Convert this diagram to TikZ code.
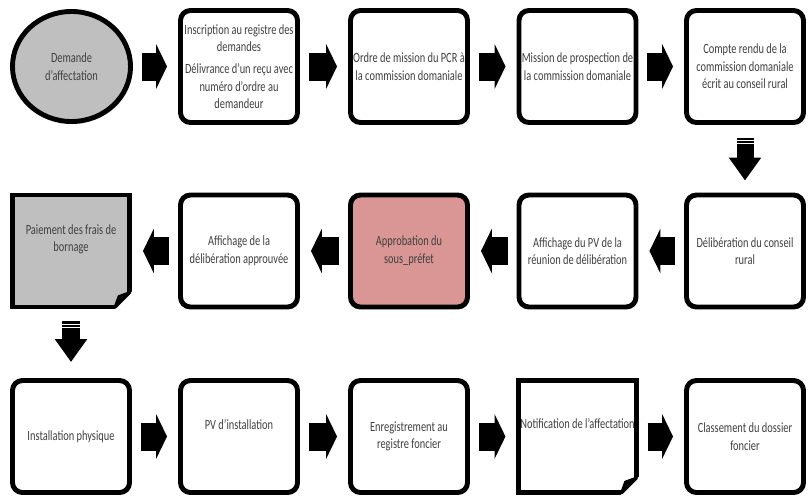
\documentclass[tikz,border=0pt]{standalone}
\usepackage{fontspec}
\setmainfont{Carlito}[FakeStretch=0.74]
\usetikzlibrary{shapes.geometric,shadows,arrows.meta,calc}

\definecolor{stepgray}{RGB}{191,191,191}
\definecolor{steppink}{RGB}{217,150,148}

% folded corner of a document box
\newcommand{\dogear}[1]{%
  \fill[white] ($(#1.south east)+(5,5)$) -- ($(#1.south east)+(-23,5)$) -- ($(#1.south east)+(5,-23)$) -- cycle;
  \filldraw[line width=2pt,line join=round] ($(#1.south east)+(-17,-2)$) -- ($(#1.south east)+(-2,-17)$) -- ($(#1.south east)+(-13,-13)$) -- cycle;}

\begin{document}
\begin{tikzpicture}[x=0.025cm,y=-0.025cm,
   font=\fontsize{10}{12.5}\selectfont,
   stepbox/.style={draw,line width=3.5pt,rounded corners=0.25cm,fill=white,
      minimum width=2.925cm,minimum height=2.8cm,inner sep=1pt,align=center,text=black!75,
      drop shadow={shadow xshift=1.5pt,shadow yshift=-1.5pt,opacity=0.35}},
   docbox/.style={stepbox,sharp corners},
   startnode/.style={ellipse,draw,line width=3.5pt,fill=stepgray,
      minimum width=2.95cm,minimum height=2.75cm,align=center,text=black!75,
      drop shadow={shadow xshift=1.5pt,shadow yshift=-1.5pt,opacity=0.35}},
   harrow/.style={line width=0.7cm,-{Triangle[length=0.27cm,width=1.1cm]},
      shorten <=0.225cm,shorten >=0.275cm},
   varrow/.style={line width=0.425cm,-{Triangle[length=0.575cm,width=0.775cm]}},
   stripe/.style={white,line width=0.6pt}]
   \useasboundingbox (0,0) rectangle (810,496);

   % first row
   \node[startnode] (dem) at (71.5,66.5) {Demande\\d'affectation};
   \node[stepbox] (insc) at (239,66.5) {Inscription au registre des\\demandes\\[3pt]Délivrance d'un reçu avec\\numéro d'ordre au\\demandeur};
   \node[stepbox] (ordre) at (409,66.5) {Ordre de mission du PCR à\\la commission domaniale};
   \node[stepbox] (mission) at (577.5,66.5) {Mission de prospection de\\la commission domaniale};
   \node[stepbox] (compte) at (745,66.5) {Compte rendu de la\\commission domaniale\\écrit au conseil rural};

   % second row
   \node[stepbox] (delib) at (745,251) {Délibération du conseil\\rural};
   \node[stepbox] (affpv) at (577.5,251) {Affichage du PV de la\\réunion de délibération};
   \node[stepbox,fill=steppink] (appro) at (409,251) {Approbation du\\sous\_préfet};
   \node[stepbox] (affdel) at (239,251) {Affichage de la\\délibération approuvée};
   \node[docbox,fill=stepgray] (paie) at (71,251) {Paiement des frais de\\bornage\\[6pt]\mbox{}};
   \dogear{paie}

   % third row
   \node[stepbox] (instal) at (71,436.5) {Installation physique};
   \node[stepbox] (pvinst) at (239,436.5) {PV d'installation\\[4pt]\mbox{}};
   \node[stepbox] (enreg) at (409,436.5) {Enregistrement au\\registre foncier};
   \node[docbox] (notif) at (577.5,436.5) {Notification de l'affectation\\[6pt]\mbox{}};
   \dogear{notif}
   \node[stepbox] (classe) at (745,436.5) {Classement du dossier\\foncier};

   \path (dem) edge[harrow] (insc);
   \path (insc) edge[harrow] (ordre);
   \path (ordre) edge[harrow] (mission);
   \path (mission) edge[harrow] (compte);

   \path (compte) edge[varrow,shorten <=0.325cm,shorten >=0.3cm] (delib);
   \draw[stripe] ($(compte.south)+(-9,15.5)$) -- +(18,0);
   \draw[stripe] ($(compte.south)+(-9,18.5)$) -- +(18,0);

   \path (delib) edge[harrow] (affpv);
   \path (affpv) edge[harrow] (appro);
   \path (appro) edge[harrow] (affdel);
   \path (affdel) edge[harrow] (paie);

   \path (paie) edge[varrow,shorten <=0.3cm,shorten >=0.4cm] (instal);
   \draw[stripe] ($(paie.south)+(-9,14.5)$) -- +(18,0);
   \draw[stripe] ($(paie.south)+(-9,17.5)$) -- +(18,0);

   \path (instal) edge[harrow] (pvinst);
   \path (pvinst) edge[harrow] (enreg);
   \path (enreg) edge[harrow] (notif);
   \path (notif) edge[harrow] (classe);

\end{tikzpicture}
\end{document}
